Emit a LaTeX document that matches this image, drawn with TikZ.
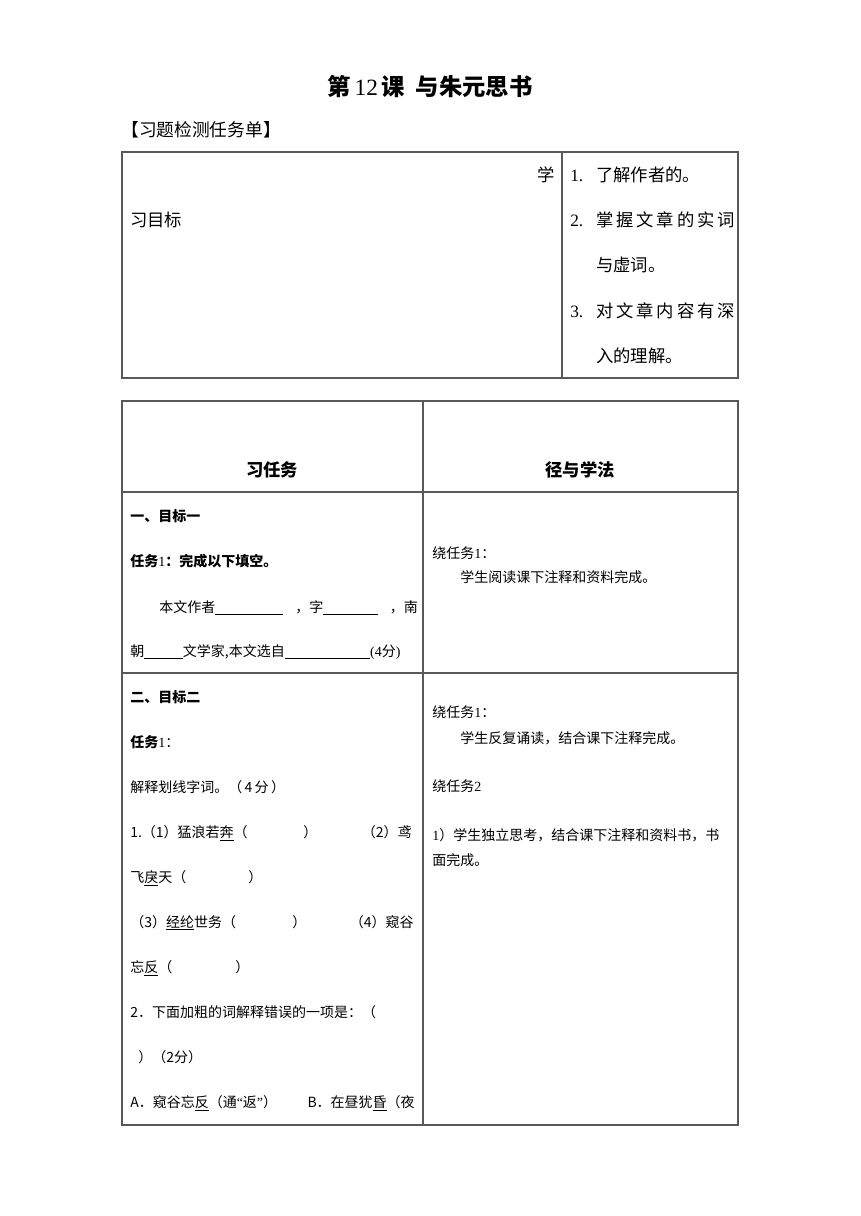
\documentclass[tikz,border=0pt]{standalone}
\usepackage{fontspec}
\setmainfont{Noto Sans CJK SC}
\newfontfamily\serifd{Liberation Serif}
\newcommand\fbody{\fontsize{10.5pt}{12pt}\selectfont}
\newcommand\fbig{\fontsize{13pt}{15pt}\selectfont}
\newcommand\blank[1]{\underline{\hspace{#1}}}
\tikzset{
  tbl/.style={draw=black!65, line width=0.8pt},
  txt/.style={anchor=base west, inner sep=0pt, font=\fbody},
  txte/.style={anchor=base east, inner sep=0pt, font=\fbody},
  big/.style={anchor=base west, inner sep=0pt, font=\fbig},
}
\begin{document}
\begin{tikzpicture}[x=0.75pt,y=-0.75pt]
\useasboundingbox[fill=white] (0,0) rectangle (860,1216);
% title
\node[inner sep=0pt, font=\fontsize{17.5pt}{20pt}\selectfont] (title) at (430,87)
  {\bfseries 第\,{\mdseries\serifd 12}\,课\ \ 与朱元思书};
\node[anchor=base west, inner sep=0pt, font=\fontsize{13.3pt}{15pt}\selectfont] (sub) at (121,137) {【习题检测任务单】};
% table 1
\draw[tbl] (122,152) rectangle (738,378);
\draw[tbl] (562,152) -- (562,378);
\node[anchor=base east, inner sep=0pt, font=\fbig] (xue) at (555,182) {学};
\node[big] (xmb) at (130,227) {习目标};
\node[big] (n1) at (570,182) {\serifd 1.};
\node[big] (g1) at (596,182) {了解作者的。};
\node[big] (n2) at (570,227) {\serifd 2.};
\node[big] (g2) at (596,227) {\makebox[104pt][s]{掌\hfill 握\hfill 文\hfill 章\hfill 的\hfill 实\hfill 词}};
\node[big] (g2b) at (596,272) {与虚词。};
\node[big] (n3) at (570,317) {\serifd 3.};
\node[big] (g3) at (596,317) {\makebox[104pt][s]{对\hfill 文\hfill 章\hfill 内\hfill 容\hfill 有\hfill 深}};
\node[big] (g3b) at (596,362) {入的理解。};
% table 2
\draw[tbl] (122,401) rectangle (738,1125);
\draw[tbl] (423,401) -- (423,1125);
\draw[tbl] (122,492) -- (738,492);
\draw[tbl] (122,673) -- (738,673);
\node[inner sep=0pt, font=\fbig\bfseries] (h1) at (272,470) {习任务};
\node[inner sep=0pt, font=\fbig\bfseries] (h2) at (580,470) {径与学法};
% row 1 left
\node[txt] (a1) at (130,521) {\bfseries 一、目标一};
\node[txt] (a2) at (130,566) {{\bfseries 任务}{\serifd 1}{\bfseries ：完成以下填空。}};
\node[txt] (a3) at (159,612) {本文作者\blank{51pt}\hspace{9pt}，字\blank{41pt}\hspace{9pt}，南};
\node[txt] (a4) at (130,656) {朝\blank{29pt}文学家,本文选自\blank{64pt}{\serifd (4}分{\serifd )}};
% row 1 right
\node[txt] (b1) at (432,558) {绕任务{\serifd 1}：};
\node[txt] (b2) at (460,582) {学生阅读课下注释和资料完成。};
% row 2 left
\node[txt] (c1) at (130,702) {\bfseries 二、目标二};
\node[txt] (c2) at (130,747) {{\bfseries 任务}{\serifd 1}：};
\node[txt] (c3) at (130,792) {解释划线字词。（\,4\,分\,）};
\node[txt] (c4) at (130,837) {1.（1）猛浪若\underline{奔}（};
\node[txt] (c4b) at (303,837) {）};
\node[txte] (c4c) at (412,837) {（2）鸢};
\node[txt] (c5) at (130,882) {飞\underline{戾}天（};
\node[txt] (c5b) at (248,882) {）};
\node[txt] (c6) at (130,927) {（3）\underline{经纶}世务（};
\node[txt] (c6b) at (292,927) {）};
\node[txte] (c6c) at (414,927) {（4）窥谷};
\node[txt] (c7) at (130,972) {忘\underline{反}（};
\node[txt] (c7b) at (235,972) {）};
\node[txt] (c8) at (130,1017) {2．下面加粗的词解释错误的一项是：（};
\node[txt] (c9) at (138,1062) {）（2分）};
\node[txt] (c10) at (130,1107) {A．窥谷忘\underline{反}（通{\serifd “}返{\serifd ”}）};
\node[txte] (c10b) at (415,1107) {B．在昼犹\underline{昏}（夜};
% row 2 right
\node[txt] (d1) at (432,717) {绕任务{\serifd 1}：};
\node[txt] (d2) at (460,743) {学生反复诵读，结合课下注释完成。};
\node[txt] (d3) at (432,791) {绕任务{\serifd 2}};
\node[txt] (d4) at (432,840) {{\serifd 1}）学生独立思考，结合课下注释和资料书，书};
\node[txt] (d5) at (432,865) {面完成。};
\end{tikzpicture}
\end{document}
